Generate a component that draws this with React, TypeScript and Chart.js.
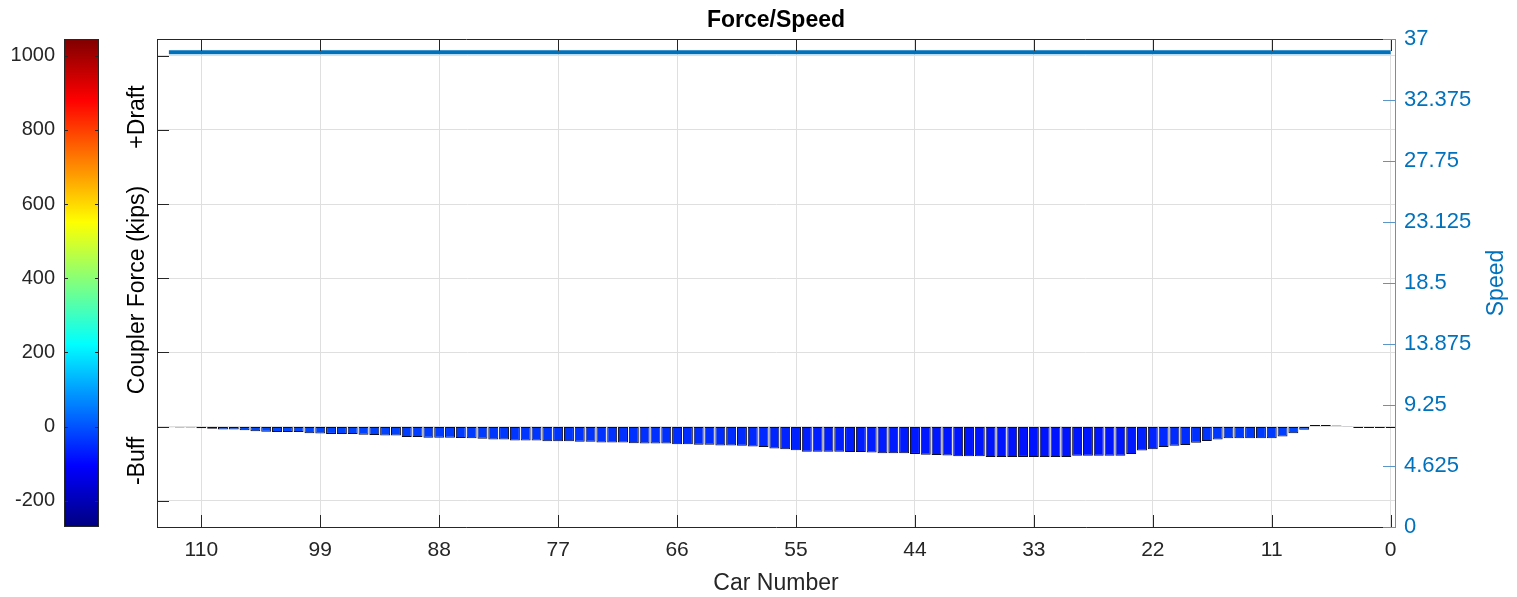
import React, { useEffect, useRef } from 'react';
import { Chart, registerables } from 'chart.js';

Chart.register(...registerables);

// Car positions along the train (0 = lead end)
const carNumbers = [
  0, 1, 2, 3, 4, 5, 6, 7, 8, 9,
  10, 11, 12, 13, 14, 15, 16, 17, 18, 19,
  20, 21, 22, 23, 24, 25, 26, 27, 28, 29,
  30, 31, 32, 33, 34, 35, 36, 37, 38, 39,
  40, 41, 42, 43, 44, 45, 46, 47, 48, 49,
  50, 51, 52, 53, 54, 55, 56, 57, 58, 59,
  60, 61, 62, 63, 64, 65, 66, 67, 68, 69,
  70, 71, 72, 73, 74, 75, 76, 77, 78, 79,
  80, 81, 82, 83, 84, 85, 86, 87, 88, 89,
  90, 91, 92, 93, 94, 95, 96, 97, 98, 99,
  100, 101, 102, 103, 104, 105, 106, 107, 108, 109,
  110, 111, 112, 113,
];

// Coupler force per car, kips (negative = buff)
const couplerForce = [
  -4, -4, -4, -4, 1, 3, 4, 4, -9, -18,
  -27, -32, -32, -32, -32, -32, -35, -39, -44, -50,
  -52, -55, -61, -65, -74, -79, -79, -79, -79, -79,
  -82, -82, -82, -82, -82, -82, -82, -82, -80, -80,
  -80, -78, -77, -76, -74, -72, -72, -72, -70, -69,
  -69, -68, -68, -68, -68, -64, -61, -59, -55, -54,
  -52, -51, -51, -49, -49, -48, -48, -46, -46, -46,
  -45, -43, -43, -43, -41, -41, -40, -40, -40, -38,
  -38, -38, -35, -35, -33, -32, -31, -30, -30, -30,
  -28, -28, -24, -24, -23, -22, -20, -20, -20, -19,
  -18, -15, -15, -15, -14, -13, -10, -8, -8, -6,
  -5, -3, -3, -2,
];

// Train speed trace
const speedCars = [113, 0];
const speedValues = [36.0, 36.0];

const carTicks = [0, 11, 22, 33, 44, 55, 66, 77, 88, 99, 110];
const forceTicks = [-200, 0, 200, 400, 600, 800, 1000];
const speedTicks = [0, 4.625, 9.25, 13.875, 18.5, 23.125, 27.75, 32.375, 37];

const carRange = [-0.4, 114.1];
const forceRange = [-271, 1045];
const speedRange = [0, 37];

const TEXT = '#262626';
const BLUE = 'rgb(0,114,189)';
const BLUE_TICK = 'rgb(90,150,200)';
const GRID = 'rgb(223,223,223)';
const FONT = '"Liberation Sans", Arial, Helvetica, sans-serif';

const clamp = (v: number) => Math.max(0, Math.min(1, v));

// Jet colormap
function jet(t: number): string {
  const u = clamp(t);
  const r = clamp(1.5 - Math.abs(4 * u - 3));
  const g = clamp(1.5 - Math.abs(4 * u - 2));
  const b = clamp(1.5 - Math.abs(4 * u - 1));
  return `rgb(${Math.round(r * 255)},${Math.round(g * 255)},${Math.round(b * 255)})`;
}

const forceToColor = (v: number) => jet((v - forceRange[0]) / (forceRange[1] - forceRange[0]));

function verticalText(ctx: CanvasRenderingContext2D, text: string, x: number, y: number, font: string, color: string) {
  ctx.save();
  ctx.translate(x, y);
  ctx.rotate(-Math.PI / 2);
  ctx.font = font;
  ctx.fillStyle = color;
  ctx.textAlign = 'center';
  ctx.textBaseline = 'middle';
  ctx.fillText(text, 0, 0);
  ctx.restore();
}

// Frame, inward tick marks, colorbar and titles
const decorPlugin = {
  id: 'decor',
  afterDraw(chart: any) {
    const { ctx, chartArea: a, scales } = chart;
    const xs = scales.x;
    const ys = scales.y;
    const ys2 = scales.y2;
    const TL = 12;
    ctx.save();

    // top frame edge
    ctx.strokeStyle = TEXT;
    ctx.lineWidth = 1;
    ctx.beginPath();
    ctx.moveTo(a.left, a.top + 0.5);
    ctx.lineTo(a.right, a.top + 0.5);
    ctx.stroke();

    // ticks pointing into the plot
    ctx.beginPath();
    xs.ticks.forEach((t: any) => {
      const px = Math.round(xs.getPixelForValue(t.value)) + 0.5;
      ctx.moveTo(px, a.bottom);
      ctx.lineTo(px, a.bottom - TL);
      ctx.moveTo(px, a.top);
      ctx.lineTo(px, a.top + TL);
    });
    ys.ticks.forEach((t: any) => {
      const py = Math.round(ys.getPixelForValue(t.value)) + 0.5;
      ctx.moveTo(a.left, py);
      ctx.lineTo(a.left + TL, py);
    });
    ctx.stroke();

    ctx.strokeStyle = BLUE_TICK;
    ctx.beginPath();
    ys2.ticks.forEach((t: any) => {
      const py = Math.round(ys2.getPixelForValue(t.value)) + 0.5;
      ctx.moveTo(a.right, py);
      ctx.lineTo(a.right - TL, py);
    });
    ctx.stroke();

    // colorbar sharing the force scale
    const cbL = 64;
    const cbR = 99;
    const grad = ctx.createLinearGradient(0, a.bottom, 0, a.top);
    for (let i = 0; i <= 64; i++) grad.addColorStop(i / 64, jet(i / 64));
    ctx.fillStyle = grad;
    ctx.fillRect(cbL, a.top, cbR - cbL, a.bottom - a.top);
    ctx.strokeStyle = TEXT;
    ctx.strokeRect(cbL + 0.5, a.top + 0.5, cbR - cbL - 1, a.bottom - a.top - 1);
    ctx.beginPath();
    forceTicks.forEach((v) => {
      const py = Math.round(ys.getPixelForValue(v)) + 0.5;
      ctx.moveTo(cbL, py);
      ctx.lineTo(cbL + 4, py);
      ctx.moveTo(cbR, py);
      ctx.lineTo(cbR - 4, py);
    });
    ctx.stroke();
    ctx.fillStyle = TEXT;
    ctx.font = `20px ${FONT}`;
    ctx.textAlign = 'right';
    ctx.textBaseline = 'middle';
    forceTicks.forEach((v) => {
      ctx.fillText(String(v), 55, ys.getPixelForValue(v));
    });

    // chart title
    ctx.font = `bold 23px ${FONT}`;
    ctx.textAlign = 'center';
    ctx.textBaseline = 'middle';
    ctx.fillStyle = '#000';
    ctx.fillText('Force/Speed', (a.left + a.right) / 2, 21);

    // left axis label in three parts
    const lf = `23px ${FONT}`;
    verticalText(ctx, '+Draft', 138, 117, lf, '#000');
    verticalText(ctx, 'Coupler Force (kips)', 138, 290, lf, '#000');
    verticalText(ctx, '-Buff', 138, 461, lf, '#000');

    // right axis label
    verticalText(ctx, 'Speed', chart.width - 20, (a.top + a.bottom) / 2, lf, BLUE);

    ctx.restore();
  },
};

export default function App() {
  const canvasRef = useRef<HTMLCanvasElement | null>(null);

  useEffect(() => {
    const canvas = canvasRef.current;
    if (!canvas) return;
    Chart.defaults.font.family = FONT;

    const chart = new Chart(canvas, {
      type: 'bar',
      data: {
        datasets: [
          {
            type: 'line',
            label: 'Speed',
            data: speedCars.map((c, i) => ({ x: c, y: speedValues[i] })),
            yAxisID: 'y2',
            borderColor: BLUE,
            borderWidth: 4,
            pointRadius: 0,
            order: 0,
          },
          {
            type: 'bar',
            label: 'Coupler Force',
            data: carNumbers.map((c, i) => ({ x: c, y: couplerForce[i] })),
            yAxisID: 'y',
            backgroundColor: couplerForce.map(forceToColor),
            borderColor: '#0c0c24',
            borderWidth: 1,
            borderSkipped: false,
            barPercentage: 0.92,
            categoryPercentage: 1,
            order: 1,
          },
        ] as any,
      },
      options: {
        responsive: false,
        animation: false,
        layout: { padding: { left: 157, top: 39, right: 0, bottom: 0 } },
        plugins: {
          legend: { display: false },
          tooltip: { enabled: false },
          title: { display: false },
        },
        scales: {
          x: {
            type: 'linear',
            reverse: true,
            offset: false,
            min: carRange[0],
            max: carRange[1],
            afterBuildTicks: (s: any) => {
              s.ticks = carTicks.map((v) => ({ value: v }));
            },
            afterFit: (s: any) => {
              s.height = 70;
            },
            grid: { color: GRID, drawTicks: false, offset: false },
            border: { color: TEXT },
            ticks: {
              color: TEXT,
              font: { size: 21 },
              padding: 11,
              maxRotation: 0,
              autoSkip: false,
              callback: (v: any) => String(v),
            },
            title: {
              display: true,
              text: 'Car Number',
              color: TEXT,
              font: { size: 23 },
              padding: { top: 0, bottom: 0 },
            },
          },
          y: {
            type: 'linear',
            position: 'left',
            min: forceRange[0],
            max: forceRange[1],
            afterBuildTicks: (s: any) => {
              s.ticks = forceTicks.map((v) => ({ value: v }));
            },
            afterFit: (s: any) => {
              s.width = 0;
            },
            grid: { color: GRID, drawTicks: false },
            border: { color: TEXT },
            ticks: { display: false },
          },
          y2: {
            type: 'linear',
            position: 'right',
            min: speedRange[0],
            max: speedRange[1],
            afterBuildTicks: (s: any) => {
              s.ticks = speedTicks.map((v) => ({ value: v }));
            },
            afterFit: (s: any) => {
              s.width = 122;
            },
            grid: { display: false, drawTicks: false },
            border: { color: BLUE_TICK },
            ticks: {
              color: BLUE,
              font: { size: 22 },
              padding: 9,
              callback: (v: any) => String(v),
            },
          },
        },
      } as any,
      plugins: [decorPlugin],
    });

    return () => chart.destroy();
  }, []);

  return (
    <div style={{ position: 'absolute', left: 0, top: 0, width: 1517, height: 597, background: '#fff' }}>
      <canvas ref={canvasRef} width={1517} height={597} />
    </div>
  );
}
